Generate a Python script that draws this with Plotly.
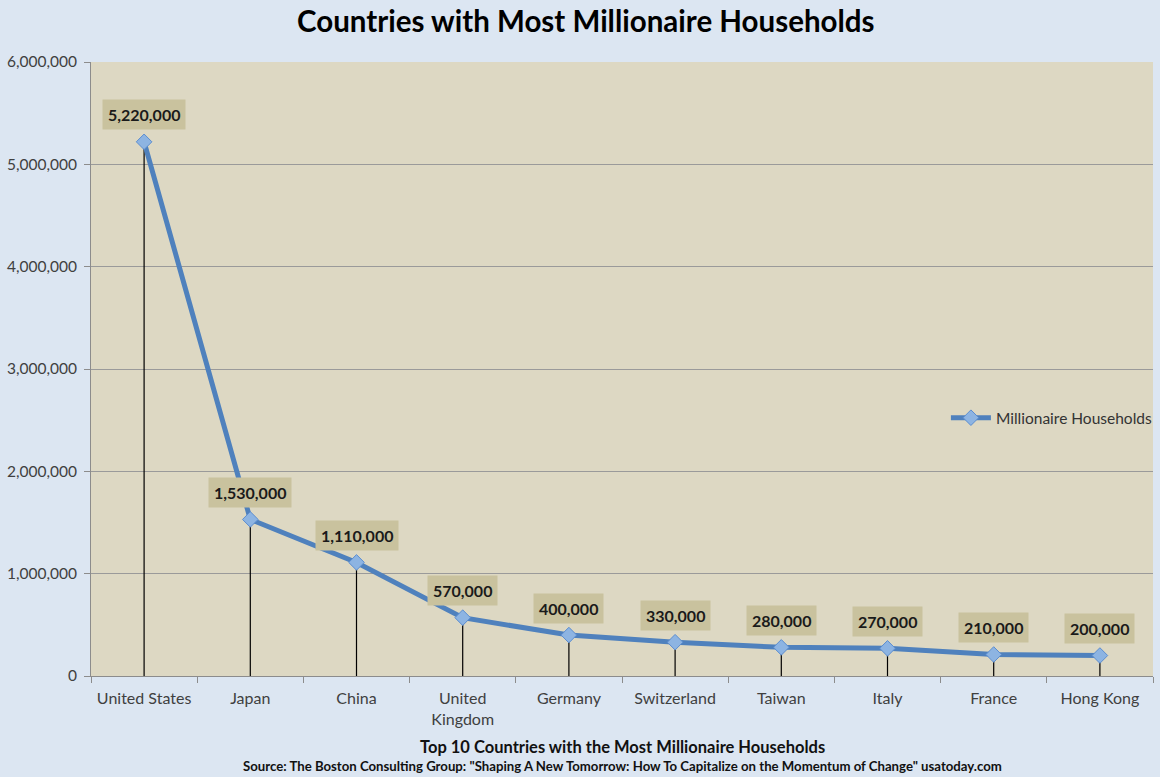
import plotly.graph_objects as go

countries = ["United States", "Japan", "China", "United<br>Kingdom", "Germany",
             "Switzerland", "Taiwan", "Italy", "France", "Hong Kong"]
households = [5220000, 1530000, 1110000, 570000, 400000,
              330000, 280000, 270000, 210000, 200000]
y_ticks = [0, 1000000, 2000000, 3000000, 4000000, 5000000, 6000000]
y_tick_labels = ["0", "1,000,000", "2,000,000", "3,000,000", "4,000,000", "5,000,000", "6,000,000"]

FONT = "Lato"

fig = go.Figure()

# drop lines (vertical lines from points to axis)
fig.add_trace(go.Scatter(
    x=countries, y=households, mode="markers",
    marker=dict(size=0.1, color="rgba(0,0,0,0)"),
    error_y=dict(type="data", symmetric=False, array=[0]*len(households),
                 arrayminus=households, width=0, thickness=1.2, color="#000000"),
    showlegend=False, hoverinfo="skip"))

fig.add_trace(go.Scatter(
    x=countries, y=households, mode="lines+markers",
    name="Millionaire Households",
    line=dict(color="#4f81bd", width=5),
    marker=dict(symbol="diamond", size=12, color="#8db4e2",
                line=dict(color="#5b8dd0", width=1)),
))

for c, v in zip(countries, households):
    fig.add_annotation(x=c, y=v, text="<b>{:,}</b>".format(v), showarrow=False,
                       yshift=27, bgcolor="#c9c29e", borderpad=5,
                       font=dict(family=FONT, size=16, color="#1a1a1a"))

fig.add_annotation(xref="paper", yref="paper", x=0.5, y=-0.115, xanchor="center", yanchor="middle",
                   text="<b>Top 10 Countries with the Most Millionaire Households</b>",
                   showarrow=False, font=dict(family=FONT, size=16.5, color="#111111"))
fig.add_annotation(xref="paper", yref="paper", x=0.5, y=-0.146, xanchor="center", yanchor="middle",
                   text="<b>Source: The Boston Consulting Group: \"Shaping A New Tomorrow: How To Capitalize on the Momentum of Change\" usatoday.com</b>",
                   showarrow=False, font=dict(family=FONT, size=13.2, color="#111111"))

fig.update_layout(
    width=1160, height=777,
    paper_bgcolor="#dce6f2",
    plot_bgcolor="#ddd8c3",
    margin=dict(l=91, r=2, t=62, b=101),
    title=dict(text="<b>Countries with Most Millionaire Households</b>", x=0.505, xanchor="center",
               y=0.972, yanchor="middle", font=dict(family=FONT, size=29.5, color="#000000")),
    showlegend=True,
    legend=dict(x=0.805, xanchor="left", y=0.42, yanchor="middle", bgcolor="rgba(0,0,0,0)",
                font=dict(family=FONT, size=15.5, color="#333333"), itemwidth=40),
    font=dict(family=FONT),
)

fig.update_xaxes(
    type="category", range=[-0.5, 9.5], tickson="boundaries",
    ticks="outside", ticklen=6, tickcolor="#8c8c8c", ticklabelstandoff=8,
    showline=True, linecolor="#8c8c8c", linewidth=1,
    showgrid=False, tickfont=dict(family=FONT, size=16, color="#404040"),
)
fig.update_yaxes(
    range=[0, 6000000], tickvals=y_ticks, ticktext=y_tick_labels,
    ticks="outside", ticklen=6, tickcolor="#8c8c8c", ticklabelstandoff=4,
    showline=True, linecolor="#8c8c8c", linewidth=1,
    showgrid=True, gridcolor="#9a9a9a", gridwidth=1, zeroline=False,
    tickfont=dict(family=FONT, size=15.5, color="#404040"),
)

fig.write_html("out.html", config={"displayModeBar": False},
               post_script="document.body.style.margin='0';document.body.style.padding='0';")
